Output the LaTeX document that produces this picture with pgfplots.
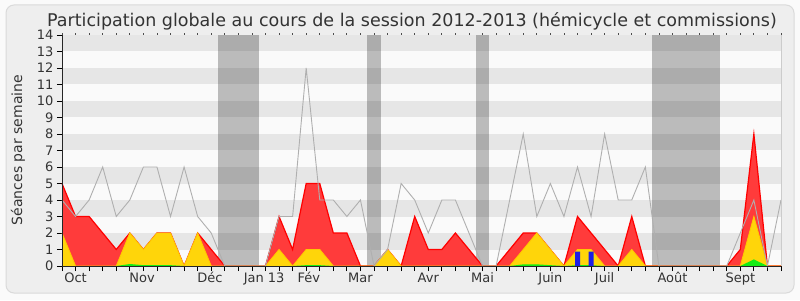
\documentclass[border=0pt]{standalone}
\usepackage{pgfplots}
\pgfplotsset{compat=1.18}
\usepackage{pgfplotstable}
\usepackage{fontspec}
\setmainfont{DejaVu Sans}

\definecolor{outerbg}{RGB}{250,250,250}
\definecolor{panelbg}{RGB}{238,238,238}
\definecolor{framec}{RGB}{218,218,218}
\definecolor{stripeL}{RGB}{250,250,250}
\definecolor{stripeD}{RGB}{230,230,230}
\definecolor{textc}{RGB}{51,51,51}
\definecolor{redfill}{RGB}{255,59,59}
\definecolor{redline}{RGB}{255,0,0}
\definecolor{yelfill}{RGB}{255,213,10}
\definecolor{yelline}{RGB}{255,200,0}
\definecolor{grnfill}{RGB}{20,235,20}
\definecolor{bluebar}{RGB}{30,30,230}
\definecolor{grayline}{RGB}{175,175,175}

\pgfplotstableread{
i gray red yellow green
0 4 5 2 0
1 3 3 0 0
2 4 3 0 0
3 6 2 0 0
4 3 1 0 0
5 4 2 2 0.12
6 6 1 1 0.05
7 6 2 2 0.05
8 3 2 2 0.05
9 6 0 0 0
10 3 2 2 0
11 2 1 0 0
12 0 0 0 0
13 0 0 0 0
14 0 0 0 0
15 0 0 0 0
16 3 3 1 0
17 3 1 0 0
18 12 5 1 0.05
19 4 5 1 0.05
20 4 2 0 0
21 3 2 0 0
22 4 0 0 0
23 0 0 0 0
24 1 1 1 0
25 5 0 0 0
26 4 3 0 0
27 2 1 0 0
28 4 1 0 0
29 4 2 0 0
30 2 1 0 0
31 0 0 0 0
32 0 0 0 0
33 4 1 0 0
34 8 2 1 0.1
35 3 2 2 0.1
36 5 1 1 0.05
37 3 0 0 0
38 6 3 1 0.05
39 3 2 1 0.05
40 8 1 0 0
41 4 0 0 0
42 4 3 1 0
43 6 0 0 0
44 0 0 0 0
45 0 0 0 0
46 0 0 0 0
47 0 0 0 0
48 0 0 0 0
49 0 0 0 0
50 2 1 0 0
51 4 8 3 0.4
52 0 0 0 0
53 4 0 0 0
}\data

\begin{document}
\begin{tikzpicture}
\useasboundingbox (0pt,0pt) rectangle (800pt,300pt);
\fill[outerbg] (0pt,0pt) rectangle (800pt,300pt);
\filldraw[fill=panelbg, draw=framec, line width=1pt, rounded corners=8pt] (6pt,7pt) rectangle (794pt,295pt);
\node[anchor=base, text=textc, font=\fontsize{17.5}{19}\selectfont] at (412pt,273.5pt) {Participation globale au cours de la session 2012-2013 (hémicycle et commissions)};
\node[rotate=90, text=textc, font=\fontsize{14}{16}\selectfont] at (18pt,150pt) {Séances par semaine};
\begin{axis}[
  at={(62pt,34pt)}, anchor=south west,
  scale only axis, width=719pt, height=231pt,
  xmin=0, xmax=53, ymin=0, ymax=14,
  clip=false,
  axis line style={draw=none},
  xtick={0,...,53}, xticklabels={},
  ytick={0,...,14},
  xtick pos=left, ytick pos=left,
  tick align=outside,
  major tick length=5pt,
  tick style={black, line width=0.8pt},
  /pgf/number format/assume math mode=true,
  yticklabel style={font=\fontsize{13}{15}\selectfont, text=textc},
  extra x ticks={1,5.9,10.9,14.9,18.2,22,27,31,36,40,45,50},
  extra x tick labels={Oct,Nov,Déc,Jan 13,Fév,Mar,Avr,Mai,Juin,Juil,Août,Sept},
  extra x tick style={major tick length=0pt,
     xticklabel style={font=\fontsize{13}{15}\selectfont, text=textc, text height=10pt, text depth=3pt, yshift=-3pt}},
]
\fill[stripeL] (axis cs:0,0) rectangle (axis cs:53,14);
\pgfplotsinvokeforeach{1,3,5,7,9,11,13}{\fill[stripeD] (axis cs:0,#1) rectangle (axis cs:53,#1+1);}
\fill[black, opacity=0.25] (axis cs:11.5,0) rectangle (axis cs:14.5,14);
\fill[black, opacity=0.25] (axis cs:22.5,0) rectangle (axis cs:23.5,14);
\fill[black, opacity=0.25] (axis cs:30.5,0) rectangle (axis cs:31.5,14);
\fill[black, opacity=0.25] (axis cs:43.5,0) rectangle (axis cs:48.5,14);

\addplot[draw=none, fill=redfill] table[x=i, y=red] {\data} \closedcycle;
\addplot[redline, line width=1.2pt] table[x=i, y=red] {\data};
\addplot[draw=none, fill=yelfill] table[x=i, y=yellow] {\data} \closedcycle;
\addplot[yelline, line width=0.9pt] table[x=i, y=yellow] {\data};
\addplot[draw=none, fill=grnfill] table[x=i, y=green] {\data} \closedcycle;
\addplot[ybar, bar width=5pt, fill=bluebar, draw=none] coordinates {(38,0.87) (39,0.87)};
\addplot[grayline, line width=0.9pt] table[x=i, y=gray] {\data};

\draw[black!85, line width=1pt] (rel axis cs:0,0) -- (rel axis cs:1,0);
\draw[black!85, line width=1pt] (rel axis cs:0,0) -- (rel axis cs:0,1);
\draw[black!20, line width=1pt] (rel axis cs:1,0) -- (rel axis cs:1,1);
\pgfplotsinvokeforeach{0,...,53}{\draw[black!70, line width=0.8pt] (axis cs:#1,14) -- ++(0pt,1.5pt);}
\end{axis}
\end{tikzpicture}
\end{document}
